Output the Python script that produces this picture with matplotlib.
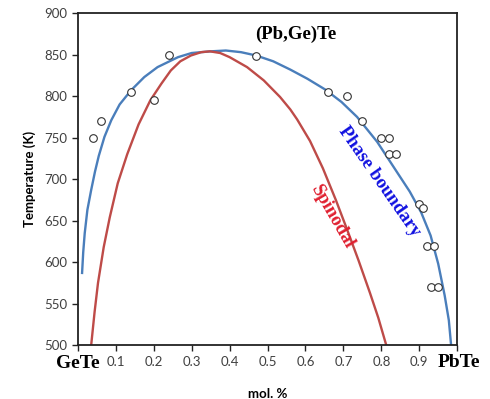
import matplotlib
matplotlib.use("Agg")
import matplotlib.pyplot as plt
import matplotlib.transforms as mtransforms

# measured points (open circles)
exp_x = [0.04, 0.06, 0.14, 0.20, 0.24, 0.47, 0.66, 0.71, 0.75, 0.80, 0.82,
         0.82, 0.84, 0.90, 0.91, 0.92, 0.94, 0.93, 0.95]
exp_T = [750, 770, 805, 795, 850, 848, 805, 800, 770, 750, 750,
         730, 730, 670, 665, 620, 620, 570, 570]

# phase boundary (blue)
pb_x = [0.011, 0.014, 0.018, 0.025, 0.035, 0.045, 0.055, 0.07, 0.088, 0.11,
        0.14, 0.175, 0.21, 0.264, 0.30, 0.35, 0.39, 0.43, 0.47, 0.515,
        0.56, 0.605, 0.652, 0.695, 0.736, 0.789, 0.842, 0.875, 0.905, 0.93,
        0.95, 0.967, 0.978, 0.984]
pb_T = [587, 612, 635, 663, 687, 709, 728, 751, 771, 790,
        807, 823, 835, 847, 852, 854, 855, 853, 849, 842,
        832, 821, 808, 793, 775, 745, 708, 685, 660, 632,
        598, 560, 530, 500]

# spinodal (red)
sp_x = [0.035, 0.044, 0.053, 0.068, 0.084, 0.105, 0.13, 0.16, 0.191, 0.22,
        0.245, 0.27, 0.298, 0.325, 0.348, 0.375, 0.40, 0.446, 0.49, 0.533,
        0.56, 0.578, 0.612, 0.646, 0.68, 0.71, 0.74, 0.77, 0.792, 0.813]
sp_T = [500, 540, 575, 618, 654, 695, 730, 766, 795, 815,
        831, 842, 849, 853, 854, 852, 847, 835, 819, 799,
        784, 772, 746, 713, 675, 639, 602, 563, 533, 500]

xticks = [0.1, 0.2, 0.3, 0.4, 0.5, 0.6, 0.7, 0.8, 0.9]
yticks = [500, 550, 600, 650, 700, 750, 800, 850, 900]

serif = "Liberation Serif"
sans = "Lato"

fig = plt.figure(figsize=(4.9, 3.99), dpi=100)
ax = fig.add_axes([0.159, 0.135, 0.774, 0.832])

ax.plot(pb_x, pb_T, color="#4a7ebb", lw=1.7, zorder=2)
ax.plot(sp_x, sp_T, color="#be4b48", lw=1.7, zorder=2)
ax.plot(exp_x, exp_T, "o", mfc="white", mec="#333333", mew=0.8, ms=5.5,
        zorder=3, linestyle="none")

ax.set_xlim(0, 1)
ax.set_ylim(500, 900)
ax.set_xticks([0] + xticks + [1])
ax.set_xticklabels([""] + [str(t) for t in xticks] + [""])
ax.set_yticks(yticks)
ax.tick_params(direction="out", length=4, width=1, colors="#222222",
               labelcolor="#404040", labelsize=9.5)
for lab in ax.get_xticklabels() + ax.get_yticklabels():
    lab.set_fontfamily(sans)
for s in ax.spines.values():
    s.set_linewidth(1.3)
    s.set_color("#222222")

ax.set_ylabel("Temperature (K)", fontfamily=sans, fontweight="bold",
              fontsize=9.5, labelpad=6)
ax.set_xlabel("mol. %", fontfamily=sans, fontweight="bold", fontsize=9.5,
              labelpad=15)

trans = mtransforms.blended_transform_factory(ax.transData, ax.transAxes)
ax.text(0.0, -0.054, "GeTe", transform=trans, ha="center", va="center",
        fontfamily=serif, fontweight="bold", fontsize=14)
ax.text(1.005, -0.051, "PbTe", transform=trans, ha="center", va="center",
        fontfamily=serif, fontweight="bold", fontsize=14)

ax.text(0.575, 874, "(Pb,Ge)Te", ha="center", va="center",
        fontfamily=serif, fontweight="bold", fontsize=13.5)
ax.text(0.795, 697, "Phase boundary", ha="center", va="center",
        rotation=-55, color="#1010e0", fontfamily=serif,
        fontweight="bold", fontsize=13.5, rotation_mode="anchor")
ax.text(0.67, 655, "Spinodal", ha="center", va="center",
        rotation=-60, color="#e02030", fontfamily=serif,
        fontweight="bold", fontsize=13.5, rotation_mode="anchor")

fig.savefig("out.png", dpi=100)
